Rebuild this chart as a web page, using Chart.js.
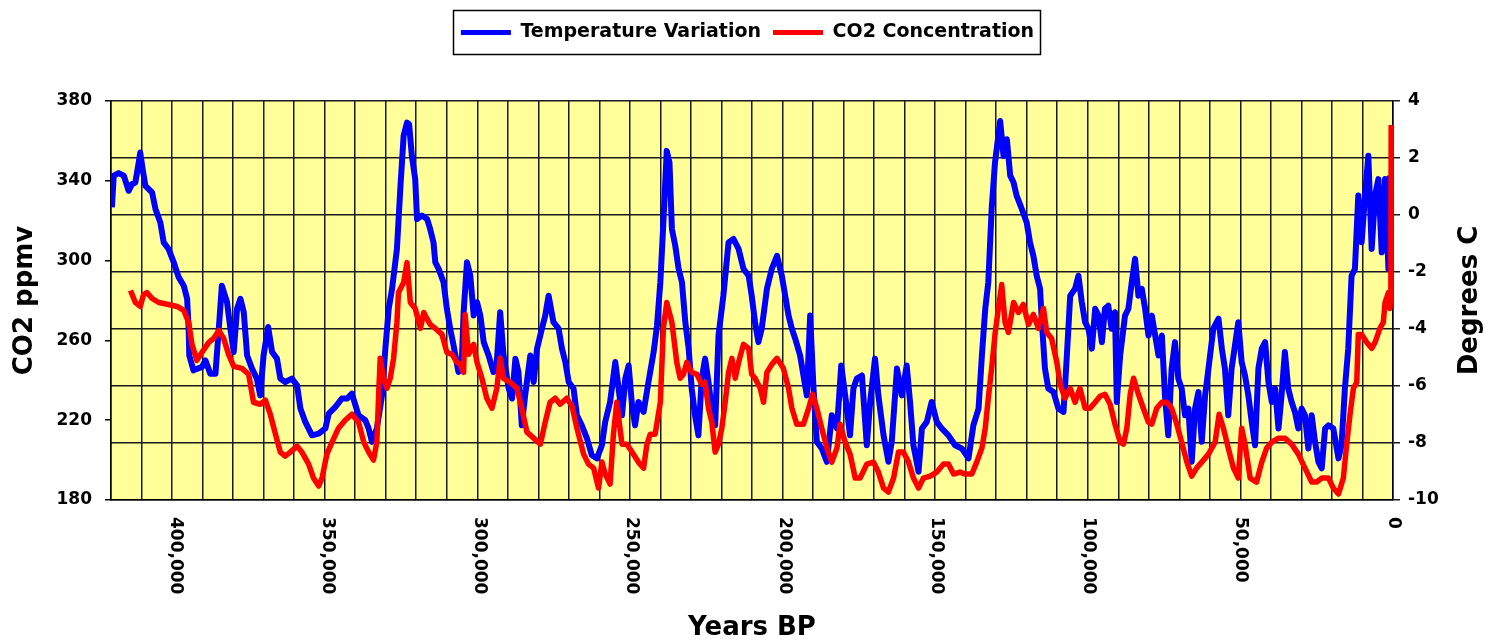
<!DOCTYPE html>
<html>
<head>
<meta charset="utf-8">
<script src="https://cdn.jsdelivr.net/npm/chart.js@4.4.1/dist/chart.umd.min.js"></script>
<style>
  html, body { margin: 0; padding: 0; background: #fff; }
  canvas { display: block; }
</style>
</head>
<body>
<canvas id="chart" width="1495" height="641"></canvas>
<script>
// Ice core record: temperature variation (right axis) and CO2 (left axis), years before present

const tempYears = [
  420700, 420100, 418500, 416800, 415200, 414100, 413000, 411900, 411400, 410600,
  409700, 407500, 406400, 404800, 403700, 402100, 400400, 398800, 397100, 396000,
  395500, 395300, 393900, 391100, 390000, 388400, 386700, 385600, 384600, 382900,
  381800, 380700, 379600, 378500, 377400, 376300, 374700, 373100, 372000, 370900,
  369400, 368100, 366500, 365400, 363800, 361600, 359900, 358800, 357200, 355000,
  352800, 350600, 349500, 347300, 345200, 343500, 341900, 339700, 337500, 336400,
  335300, 333700, 332000, 330900, 329800, 328700, 327100, 326000, 324900, 323800,
  323100, 322200, 321100, 320500, 318900, 317200, 316200, 315100, 314500, 313400,
  311800, 310700, 309600, 308500, 306900, 305800, 305200, 304100, 303000, 301900,
  300800, 299700, 298600, 297000, 295400, 294300, 293200, 292100, 290400, 289300,
  288200, 287200, 286100, 285000, 283300, 282200, 281100, 279500, 278400, 277300,
  275700, 274000, 272900, 271800, 270700, 269100, 268000, 266400, 264700, 263100,
  261400, 259800, 258700, 257100, 255400, 254300, 253200, 252100, 251000, 249900,
  248900, 247800, 246100, 244500, 242800, 241700, 240600, 239600, 238500, 237600,
  236800, 235700, 234600, 233500, 232400, 231300, 230300, 229200, 228100, 227000,
  225900, 224800, 223700, 222600, 221500, 219900, 218200, 216600, 214900, 213300,
  211600, 210600, 209500, 208400, 207300, 205600, 204000, 202300, 200700, 199600,
  198500, 197400, 196300, 194700, 193600, 192500, 191400, 190300, 189200, 187600,
  185900, 184300, 182600, 181200, 179900, 178300, 177200, 176100, 174400, 172800,
  171700, 170100, 169000, 167300, 165700, 164600, 162900, 161300, 159700, 158600,
  157500, 155800, 154700, 153100, 151500, 149800, 148200, 146000, 143800, 141600,
  139400, 137800, 136100, 135000, 133900, 132900, 131800, 130700, 129000, 127900,
  126800, 125700, 124600, 123600, 121900, 120300, 119200, 118100, 117000, 115900,
  115300, 114300, 113200, 111500, 109900, 108200, 107100, 106000, 104400, 103300,
  102200, 101100, 100000, 98900, 97800, 96700, 95600, 94600, 93500, 92400,
  91300, 90700, 89600, 88000, 86900, 85800, 84700, 83600, 82500, 81400,
  80300, 79200, 78100, 77000, 75900, 74900, 73800, 72700, 71600, 70500,
  69400, 68300, 67200, 66100, 65000, 63900, 62800, 61700, 60600, 59000,
  57300, 56200, 55200, 54100, 53000, 51900, 50800, 49700, 48600, 47500,
  46400, 45300, 44200, 43100, 42000, 40900, 39800, 38700, 37600, 36600,
  35500, 34400, 33300, 32200, 31100, 30000, 28900, 27800, 26700, 25600,
  24500, 23400, 22300, 21200, 19600, 17900, 16900, 15800, 14700, 13600,
  12500, 11400, 10300, 9200, 8100, 7000, 5900, 4800, 3700, 2600,
  1500, 1000
];
const tempValues = [
  0.27, 1.38, 1.47, 1.38, 0.85, 1.08, 1.14, 1.84, 2.19, 1.61,
  1.02, 0.79, 0.21, -0.26, -0.96, -1.19, -1.66, -2.18, -2.48, -2.94,
  -3.99, -4.93, -5.45, -5.33, -5.10, -5.57, -5.57, -3.99, -2.48, -3.06,
  -3.99, -4.81, -3.29, -2.94, -3.41, -4.93, -5.39, -5.74, -6.33, -4.93,
  -3.93, -4.81, -5.04, -5.74, -5.86, -5.74, -5.98, -6.79, -7.26, -7.73,
  -7.67, -7.49, -6.97, -6.73, -6.44, -6.44, -6.27, -7.03, -7.20, -7.49,
  -7.96, -7.49, -6.33, -4.69, -3.29, -2.59, -1.19, 0.91, 2.78, 3.24,
  3.18, 2.08, 1.26, -0.14, -0.02, -0.14, -0.49, -0.96, -1.66, -1.89,
  -2.36, -3.29, -3.99, -4.58, -5.51, -5.16, -3.41, -1.66, -2.13, -3.53,
  -3.06, -3.53, -4.46, -4.93, -5.51, -5.16, -3.41, -4.93, -6.09, -6.44,
  -5.04, -5.51, -7.38, -6.33, -4.93, -5.86, -4.69, -3.99, -3.53, -2.83,
  -3.76, -3.99, -4.69, -5.16, -5.86, -6.09, -7.03, -7.38, -7.84, -8.43,
  -8.54, -8.08, -7.26, -6.56, -5.16, -6.09, -7.03, -5.74, -5.28, -6.68,
  -7.38, -6.56, -6.91, -5.86, -4.81, -3.88, -2.36, -0.26, 2.25, 1.84,
  -0.49, -1.08, -1.89, -2.36, -3.76, -4.69, -6.09, -7.03, -7.73, -5.74,
  -5.04, -5.86, -6.79, -7.38, -4.23, -2.83, -0.96, -0.84, -1.19, -1.89,
  -2.13, -2.83, -3.76, -4.46, -3.99, -2.59, -1.89, -1.43, -2.13, -2.83,
  -3.53, -3.99, -4.34, -4.93, -5.63, -6.33, -3.53, -6.09, -7.96, -8.19,
  -8.66, -7.03, -7.49, -5.28, -6.33, -7.73, -6.09, -5.74, -5.63, -8.08,
  -6.56, -5.04, -6.33, -7.73, -8.66, -7.96, -5.39, -6.33, -5.28, -6.56,
  -8.08, -9.01, -7.49, -7.26, -6.56, -7.26, -7.49, -7.73, -8.08, -8.19,
  -8.54, -7.38, -6.79, -4.93, -3.29, -2.36, 0.21, 1.84, 3.30, 2.07,
  2.66, 1.38, 1.14, 0.68, 0.21, -0.26, -0.96, -1.43, -2.13, -2.59,
  -3.76, -5.39, -6.09, -6.21, -6.79, -6.91, -4.93, -2.83, -2.59, -2.13,
  -3.06, -3.76, -4.00, -4.69, -3.29, -3.53, -4.46, -3.29, -3.18, -3.99,
  -3.41, -6.56, -4.93, -3.53, -3.29, -2.36, -1.54, -2.83, -2.59, -3.29,
  -4.23, -3.53, -4.23, -4.93, -4.23, -6.33, -7.73, -5.39, -4.46, -5.74,
  -6.09, -7.03, -6.79, -8.66, -6.79, -6.21, -7.96, -6.33, -5.39, -3.99,
  -3.64, -4.69, -5.39, -7.03, -5.39, -4.58, -3.76, -5.16, -5.63, -6.33,
  -7.26, -8.08, -5.39, -4.69, -4.46, -5.86, -6.56, -6.09, -7.49, -6.33,
  -4.81, -6.09, -6.56, -6.91, -7.49, -6.79, -7.03, -8.19, -7.03, -7.96,
  -8.66, -8.89, -7.49, -7.38, -7.49, -8.54, -8.08, -6.09, -4.69, -2.13,
  -1.89, 0.68, -0.96, 0.68, 2.08, -1.19, 0.68, 1.26, -1.31, 1.26,
  -1.89, 1.38
];

const co2Years = [
  414600, 413000, 411400, 410300, 409200, 407500, 405300, 402100, 399300, 397100,
  395500, 394400, 392800, 391100, 388900, 387300, 385600, 384000, 382400, 380700,
  378000, 375800, 374200, 372000, 370300, 368700, 367000, 365400, 363800, 362100,
  359900, 358300, 356100, 354500, 352800, 351700, 350100, 348400, 346300, 344100,
  341900, 339700, 338000, 336400, 334800, 333700, 333100, 332600, 331500, 330400,
  329300, 328200, 327100, 326600, 324900, 323800, 322700, 321100, 319400, 318300,
  317300, 316200, 314500, 312300, 310700, 309000, 307400, 306300, 305200, 304700,
  303600, 301900, 300800, 299200, 297600, 295900, 294300, 293200, 292100, 289900,
  287700, 286100, 284400, 282200, 280000, 278400, 276800, 275100, 273500, 271300,
  269600, 268000, 265800, 264200, 262500, 260900, 259800, 258700, 257100, 256000,
  254900, 253200, 251600, 249900, 247800, 246100, 245000, 243900, 242300, 240600,
  239600, 238500, 236800, 235200, 234100, 233000, 231900, 230300, 228600, 227000,
  225900, 224800, 223700, 222600, 221500, 220400, 219300, 218200, 217100, 216000,
  214900, 213300, 211600, 210600, 209500, 207800, 206700, 205600, 204000, 202300,
  200200, 198500, 197400, 195800, 193600, 191900, 190600, 189200, 187600, 185900,
  184300, 182600, 181600, 179900, 178300, 176600, 175000, 172800, 170600, 169000,
  167300, 165700, 164000, 162400, 160800, 159100, 157500, 155800, 154200, 152000,
  149800, 147600, 146000, 144300, 142200, 140500, 138300, 136700, 135000, 133900,
  132900, 131800, 130700, 129600, 128500, 127400, 126300, 124600, 123000, 121400,
  119700, 118100, 116400, 114800, 113700, 112100, 110400, 109300, 107700, 106000,
  104400, 102800, 101100, 99500, 97800, 96200, 94600, 92900, 91300, 89600,
  88500, 87400, 86300, 85200, 83600, 82000, 80300, 79200, 77600, 75900,
  74300, 72700, 71000, 69400, 67700, 66100, 64500, 62800, 60600, 58400,
  57100, 55700, 54100, 52400, 50800, 49700, 48600, 46900, 44800, 43100,
  41500, 39800, 37600, 35500, 33300, 31100, 28900, 26700, 25100, 23400,
  21200, 19600, 17900, 16300, 15200, 14100, 13000, 11900, 11400, 10300,
  8600, 7000, 5900, 4300, 3200, 2600, 1500, 1000, 700, 600
];
const co2Values = [
  285, 279, 277, 283, 284, 281, 279, 278, 277, 275,
  269, 258, 250, 254, 259, 261, 265, 261, 253, 247,
  246, 243, 229, 228, 230, 223, 213, 204, 202, 204,
  207, 204, 198, 191, 187, 191, 203, 209, 216, 220,
  223, 219, 209, 204, 200, 209, 233, 251, 241, 236,
  241, 251, 269, 284, 289, 299, 279, 276, 266, 274,
  271, 268, 266, 263, 254, 253, 249, 248, 244, 273,
  253, 258, 249, 241, 231, 226, 236, 251, 241, 239,
  236, 226, 214, 211, 208, 219, 229, 231, 228, 231,
  227, 216, 203, 198, 196, 186, 199, 193, 188, 213,
  229, 208, 208, 204, 199, 196, 208, 213, 213, 229,
  266, 279, 269, 249, 241, 243, 249, 244, 243, 238,
  239, 226, 219, 204, 208, 216, 229, 244, 251, 241,
  249, 258, 256, 243, 241, 236, 229, 244, 248, 251,
  246, 236, 226, 218, 218, 226, 233, 226, 216, 206,
  199, 206, 218, 209, 203, 191, 191, 198, 199, 194,
  186, 184, 191, 204, 204, 199, 191, 186, 191, 192,
  194, 198, 198, 193, 194, 193, 193, 199, 206, 216,
  231, 246, 263, 276, 288, 269, 264, 279, 274, 278,
  268, 273, 266, 276, 264, 261, 249, 238, 231, 236,
  229, 236, 226, 226, 229, 232, 233, 228, 218, 209,
  208, 216, 233, 241, 233, 226, 219, 218, 226, 229,
  229, 226, 218, 209, 199, 192, 196, 199, 203, 209,
  223, 216, 206, 196, 191, 216, 208, 191, 189, 199,
  206, 209, 211, 211, 208, 203, 196, 189, 189, 191,
  191, 186, 183, 191, 208, 223, 236, 239, 263, 263,
  259, 256, 259, 266, 269, 279, 284, 276, 286, 368
];

const yearLabels = [400000, 350000, 300000, 250000, 200000, 150000, 100000, 50000, 0];

const blue = '#0000ff';
const red = '#ff0000';
const plotBg = '#ffff99';
const gridColor = '#1a1a1a';

Chart.defaults.font.family = "'DejaVu Sans', sans-serif";
Chart.defaults.font.weight = 'bold';
Chart.defaults.color = '#000';

function toPoints(xs, ys) {
  return xs.map(function(x, i) { return { x: x, y: ys[i] }; });
}

// yellow plot area
const plotBackground = {
  id: 'plotBackground',
  beforeDraw: function(chart) {
    const a = chart.chartArea;
    const ctx = chart.ctx;
    ctx.save();
    ctx.fillStyle = plotBg;
    ctx.fillRect(a.left, a.top, a.right - a.left, a.bottom - a.top);
    ctx.restore();
  }
};

// box round the legend
const legendFrame = {
  id: 'legendFrame',
  afterDraw: function(chart) {
    const boxes = chart.legend && chart.legend.legendHitBoxes;
    if (!boxes || !boxes.length) return;
    let l = Infinity, t = Infinity, r = -Infinity, b = -Infinity;
    boxes.forEach(function(h) {
      l = Math.min(l, h.left);
      t = Math.min(t, h.top);
      r = Math.max(r, h.left + h.width);
      b = Math.max(b, h.top + h.height);
    });
    const ctx = chart.ctx;
    ctx.save();
    ctx.strokeStyle = '#000';
    ctx.lineWidth = 1.5;
    ctx.strokeRect(Math.round(l - 8) + 0.5, Math.round(t - 13) + 0.5, Math.round(r - l + 14), Math.round(b - t + 25));
    ctx.restore();
  }
};

// year labels turned clockwise, and the right axis title reading upward
const sideText = {
  id: 'sideText',
  afterDraw: function(chart) {
    const xs = chart.scales.x;
    const y2 = chart.scales.y2;
    const ctx = chart.ctx;
    ctx.save();
    ctx.fillStyle = '#000';
    ctx.font = "bold 17px 'DejaVu Sans'";
    ctx.textAlign = 'left';
    ctx.textBaseline = 'middle';
    yearLabels.forEach(function(v) {
      ctx.save();
      ctx.translate(xs.getPixelForValue(v), xs.top + 17);
      ctx.rotate(Math.PI / 2);
      ctx.fillText(v.toLocaleString('en-US'), 0, 0);
      ctx.restore();
    });
    ctx.font = "bold 26px 'DejaVu Sans'";
    ctx.textAlign = 'center';
    ctx.translate(y2.right - 25, (y2.top + y2.bottom) / 2);
    ctx.rotate(-Math.PI / 2);
    ctx.fillText('Degrees C', 0, 0);
    ctx.restore();
  }
};

new Chart(document.getElementById('chart'), {
  type: 'line',
  data: {
    datasets: [{
      label: 'Temperature Variation',
      data: toPoints(tempYears, tempValues),
      borderColor: blue,
      backgroundColor: blue,
      borderWidth: 6,
      pointRadius: 0,
      tension: 0,
      borderJoinStyle: 'round',
      xAxisID: 'x',
      yAxisID: 'y2',
      order: 2
    }, {
      label: 'CO2 Concentration',
      data: toPoints(co2Years, co2Values),
      borderColor: red,
      backgroundColor: red,
      borderWidth: 5.5,
      pointRadius: 0,
      tension: 0,
      borderJoinStyle: 'round',
      xAxisID: 'x',
      yAxisID: 'y',
      order: 1
    }]
  },
  options: {
    responsive: false,
    animation: false,
    layout: { padding: { top: 11, left: 0, right: 0, bottom: 0 } },
    plugins: {
      tooltip: { enabled: false },
      legend: {
        position: 'top',
        labels: {
          boxWidth: 50,
          boxHeight: 5,
          padding: 12,
          font: { size: 19, weight: 'bold' },
          generateLabels: function(chart) {
            return chart.data.datasets.map(function(ds, i) {
              return {
                text: ds.label,
                fillStyle: ds.borderColor,
                strokeStyle: ds.borderColor,
                lineWidth: 0,
                hidden: false,
                datasetIndex: i
              };
            });
          }
        }
      }
    },
    scales: {
      x: {
        type: 'linear',
        reverse: true,
        min: 0,
        max: 421000,
        afterFit: function(s) { s.height = 141; },
        ticks: { display: false, stepSize: 10000, includeBounds: false },
        grid: { color: gridColor, lineWidth: 1.5, drawTicks: false },
        border: { color: '#000', width: 1.5 },
        title: { display: true, text: 'Years BP', font: { size: 26, lineHeight: 1 }, padding: 0 }
      },
      y: {
        position: 'left',
        min: 180,
        max: 380,
        afterFit: function(s) { s.width = 111; },
        ticks: { stepSize: 40, padding: 13, font: { size: 17 } },
        grid: { drawOnChartArea: false, tickLength: 6, color: '#000', lineWidth: 1.5 },
        border: { color: '#000', width: 1.5 },
        title: { display: true, text: 'CO2 ppmv', font: { size: 26, lineHeight: 1 }, padding: { top: 12, bottom: 0 } }
      },
      y2: {
        position: 'right',
        min: -10,
        max: 4,
        afterFit: function(s) { s.width = 102; },
        ticks: { stepSize: 2, padding: 8, font: { size: 17 } },
        grid: { color: gridColor, lineWidth: 1.5, tickLength: 7 },
        border: { color: '#000', width: 1.5 }
      },
      // empty band between the legend and the plot
      gap: {
        type: 'linear',
        position: 'top',
        min: 0,
        max: 1,
        afterFit: function(s) { s.height = 49; },
        ticks: { display: false },
        grid: { display: false },
        border: { display: false }
      }
    }
  },
  plugins: [plotBackground, legendFrame, sideText]
});
</script>
</body>
</html>
